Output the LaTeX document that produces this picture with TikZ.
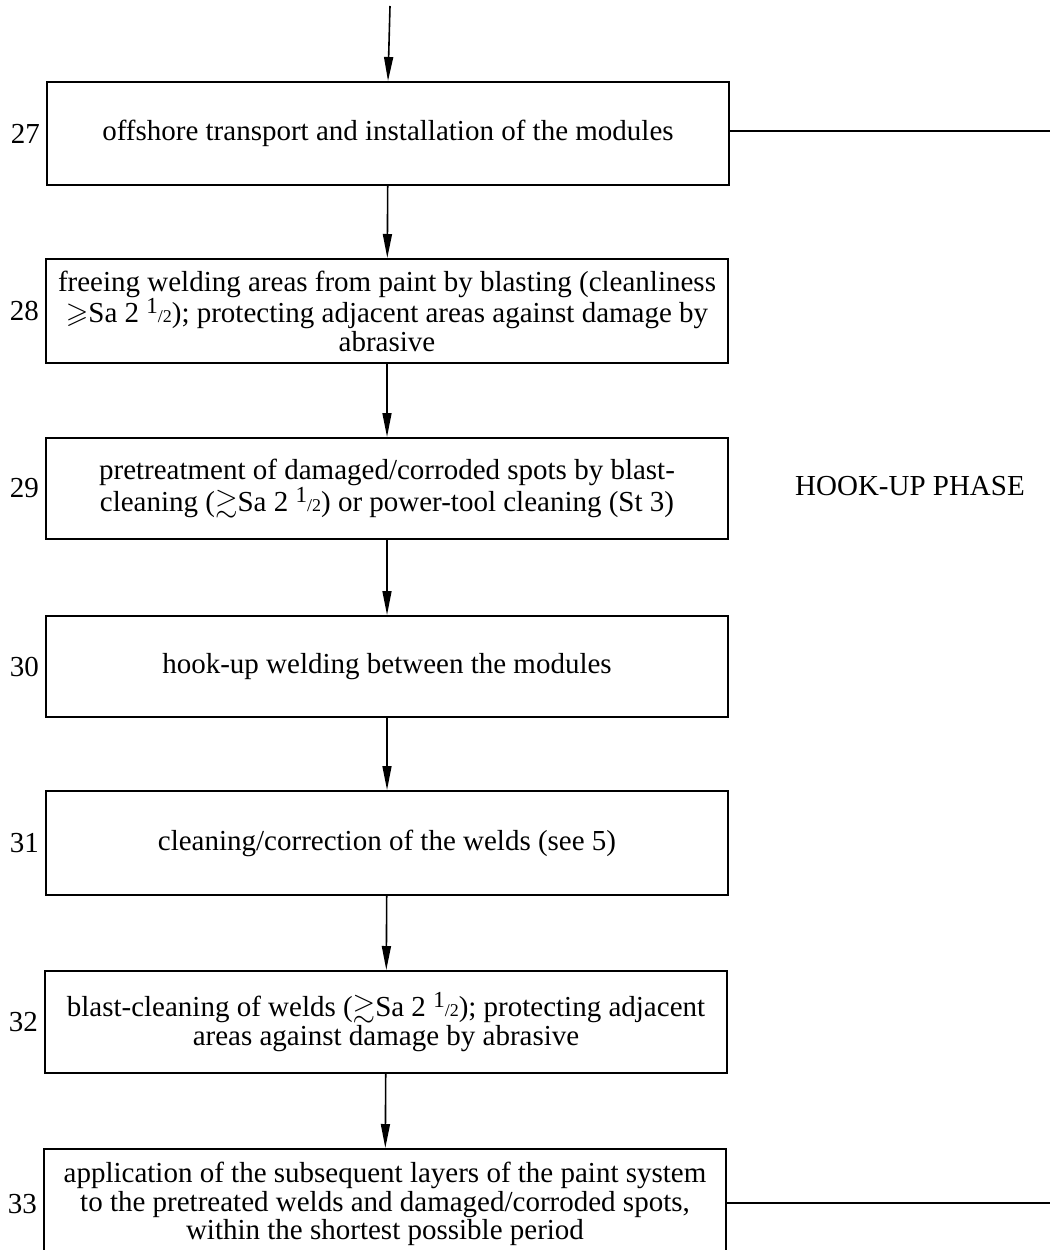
\documentclass[tikz,border=0pt]{standalone}
\usepackage{amssymb}
\usepackage{fontspec}
\setmainfont{Liberation Serif}
\usetikzlibrary{arrows.meta}
\newcommand{\halfsym}{{\fontsize{23}{23}\selectfont\raisebox{0.4em}{1}\fontsize{18}{18}\selectfont/2}}
\newcommand{\geqsym}{\smash{$\geqslant$}}
\newcommand{\gtrsym}{\smash{$\gtrsim$}}
\tikzset{
  stepbox/.style={draw=black, line width=2pt, minimum width=682pt, inner sep=0pt, align=center,
    font=\fontsize{29}{28.5}\selectfont},
  numlabel/.style={anchor=east, inner sep=0pt, font=\fontsize{29}{29}\selectfont},
  flow/.style={line width=1.6pt, -{Triangle[length=24pt,width=9pt]}},
  plain/.style={line width=1.6pt}
}
\begin{document}
\begin{tikzpicture}[x=1pt,y=-1pt]
\clip (0,0) rectangle (1056,1250);
\fill[white] (0,0) rectangle (1056,1250);

\node[stepbox, minimum height=103pt] (b27) at (388,133.5) {offshore transport and installation of the modules};
\node[stepbox, minimum height=104pt] (b28) at (387,311) {freeing welding areas from paint by blasting (cleanliness\\ \geqsym Sa 2 \halfsym); protecting adjacent areas against damage by\\ abrasive};
\node[stepbox, minimum height=101pt] (b29) at (387,488.5) {pretreatment of damaged/corroded spots by blast-\\ cleaning (\gtrsym Sa 2 \halfsym) or power-tool cleaning (St 3)};
\node[stepbox, minimum height=101pt] (b30) at (387,666.5) {hook-up welding between the modules};
\node[stepbox, minimum height=104pt] (b31) at (387,843) {cleaning/correction of the welds (see 5)};
\node[stepbox, minimum height=102pt] (b32) at (386,1022) {blast-cleaning of welds (\gtrsym Sa 2 \halfsym); protecting adjacent\\ areas against damage by abrasive};
\node[stepbox, minimum height=110pt] (b33) at (385,1204) {application of the subsequent layers of the paint system\\ to the pretreated welds and damaged/corroded spots,\\ within the shortest possible period};

\foreach \n in {27,...,33} {
  \node[numlabel] (l\n) at ([xshift=-6pt]b\n.west) {\n};
}

\node[font=\fontsize{29}{29}\selectfont, inner sep=0pt] (phase) at (910,486) {HOOK-UP PHASE};

\coordinate (top) at (390,6);
\coordinate (r27) at (1050,131);
\coordinate (r33) at (1050,1203);

\draw[flow] (top) -- (b27.north);
\draw[flow] (b27) -- (b28);
\draw[flow] (b28) -- (b29);
\draw[flow] (b29) -- (b30);
\draw[flow] (b30) -- (b31);
\draw[flow] (b31) -- (b32);
\draw[flow] (b32) -- (b33);
\draw[plain] (b27.east |- r27) -- (r27);
\draw[plain] (b33.east |- r33) -- (r33);
\end{tikzpicture}
\end{document}
